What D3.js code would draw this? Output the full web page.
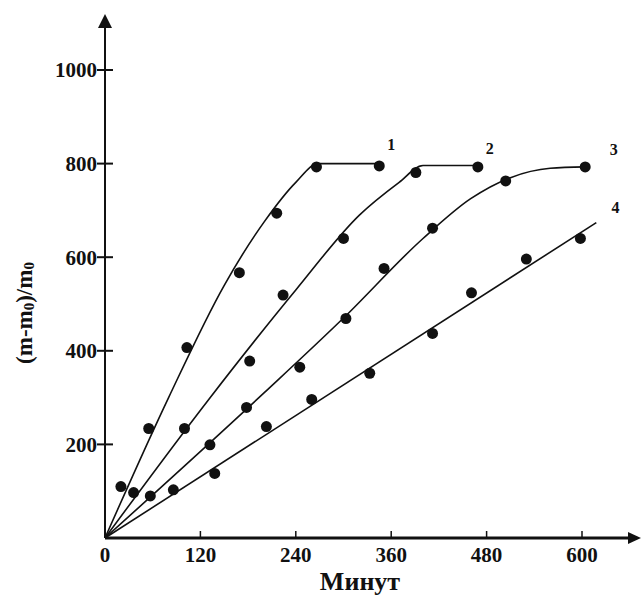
<!DOCTYPE html>
<html>
<head>
<meta charset="utf-8">
<script src="https://cdn.jsdelivr.net/npm/d3@7"></script>
<style>
  body { margin: 0; background: #fff; }
</style>
</head>
<body>
<script>
// relative mass gain (m-m0)/m0 vs time, minutes
var xTicks = [0, 120, 240, 360, 480, 600],
    yTicks = [200, 400, 600, 800, 1000];

// measured points, [minutes, value]
var pts1 = [[20,110],[55,234],[103,407],[169,567],[216,694],[266,793],[345,795]],
    pts2 = [[36,97],[100,234],[182,378],[224,519],[300,640],[391,781],[469,793]],
    pts3 = [[57,90],[132,199],[178,279],[245,365],[303,469],[351,576],[412,662],[504,763],[604,793]],
    pts4 = [[86,103],[138,138],[203,238],[260,296],[333,352],[412,437],[461,524],[530,596],[598,640]];

// fitted curves
var fit1 = [[0,0],[80,300],[150,540],[200,675],[240,760],[268,800],[345,800]],
    fit2 = [[0,0],[130,295],[240,530],[320,690],[370,760],[400,796],[469,796]],
    fit3 = [[0,0],[200,310],[300,470],[400,640],[460,725],[510,770],[560,790],[604,793]],
    fit4 = [[0,0],[618,674]];

var curveNames = ["1", "2", "3", "4"],
    labelPos = [[360, 830], [484, 820], [640, 818], [642, 694]];

var font = "'Liberation Serif', 'Times New Roman', serif";

var width = 641,
    height = 597,
    svg = d3.select("body")
    .append("svg")
    .attr("width", width)
    .attr("height", height)
    .attr("font-family", font)
    .attr("font-weight", "bold");

var x = d3.scaleLinear().domain([0, 600]).range([105, 582]);
var y = d3.scaleLinear().domain([0, 1000]).range([538, 70]);

// axes
svg.append("line")
    .attr("x1", x(0)).attr("x2", 630)
    .attr("y1", y(0)).attr("y2", y(0))
    .attr("stroke", "#111").attr("stroke-width", 3);
svg.append("path")
    .attr("d", "M641," + y(0) + "L628," + (y(0) - 6) + "L628," + (y(0) + 6) + "Z")
    .attr("fill", "#111");

svg.append("line")
    .attr("x1", x(0)).attr("x2", x(0))
    .attr("y1", y(0)).attr("y2", 26)
    .attr("stroke", "#111").attr("stroke-width", 2);
svg.append("path")
    .attr("d", "M" + x(0) + ",14L" + (x(0) - 7) + ",28L" + (x(0) + 7) + ",28Z")
    .attr("fill", "#111");

svg.selectAll(".xt")
  .data(xTicks)
  .enter().append("line")
    .attr("class", "xt")
    .attr("x1", function(d) { return x(d); })
    .attr("x2", function(d) { return x(d); })
    .attr("y1", y(0) - 7).attr("y2", y(0))
    .attr("stroke", "#111").attr("stroke-width", 1.5);

svg.selectAll(".xl")
  .data(xTicks)
  .enter().append("text")
    .attr("class", "xl")
    .attr("x", function(d) { return x(d); })
    .attr("y", 562)
    .attr("text-anchor", "middle")
    .attr("font-size", 21)
    .attr("fill", "#111")
    .text(function(d) { return d; });

svg.selectAll(".yt")
  .data(yTicks)
  .enter().append("line")
    .attr("class", "yt")
    .attr("x1", x(0) - 8).attr("x2", x(0) + 8)
    .attr("y1", function(d) { return y(d); })
    .attr("y2", function(d) { return y(d); })
    .attr("stroke", "#111").attr("stroke-width", 2);

svg.selectAll(".yl")
  .data(yTicks)
  .enter().append("text")
    .attr("class", "yl")
    .attr("x", 97)
    .attr("y", function(d) { return y(d); })
    .attr("dy", "0.35em")
    .attr("text-anchor", "end")
    .attr("font-size", 21)
    .attr("fill", "#111")
    .text(function(d) { return d; });

svg.append("text")
    .attr("x", 360).attr("y", 590)
    .attr("text-anchor", "middle")
    .attr("font-size", 26)
    .attr("fill", "#111")
    .text("Минут");

var yl = svg.append("text")
    .attr("transform", "translate(32,313) rotate(-90)")
    .attr("text-anchor", "middle")
    .attr("font-size", 23)
    .attr("fill", "#111");
yl.append("tspan").text("(m-m");
yl.append("tspan").attr("font-size", 15).attr("dy", 2).text("0");
yl.append("tspan").attr("dy", -2).text(")/m");
yl.append("tspan").attr("font-size", 15).attr("dy", 2).text("0");

// curves
var line = d3.line()
    .x(function(d) { return x(d[0]); })
    .y(function(d) { return y(d[1]); })
    .curve(d3.curveMonotoneX);

svg.selectAll(".fit")
  .data([fit1, fit2, fit3, fit4])
  .enter().append("path")
    .attr("class", "fit")
    .attr("d", line)
    .attr("fill", "none")
    .attr("stroke", "#111")
    .attr("stroke-width", 1.6);

[pts1, pts2, pts3, pts4].forEach(function(pts) {
  svg.selectAll(null)
    .data(pts)
    .enter().append("circle")
      .attr("cx", function(d) { return x(d[0]); })
      .attr("cy", function(d) { return y(d[1]); })
      .attr("r", 5.5)
      .attr("fill", "#111");
});

svg.selectAll(".cl")
  .data(curveNames)
  .enter().append("text")
    .attr("class", "cl")
    .attr("x", function(d, i) { return x(labelPos[i][0]); })
    .attr("y", function(d, i) { return y(labelPos[i][1]); })
    .attr("text-anchor", "middle")
    .attr("font-size", 16)
    .attr("fill", "#111")
    .text(function(d) { return d; });
</script>
</body>
</html>
